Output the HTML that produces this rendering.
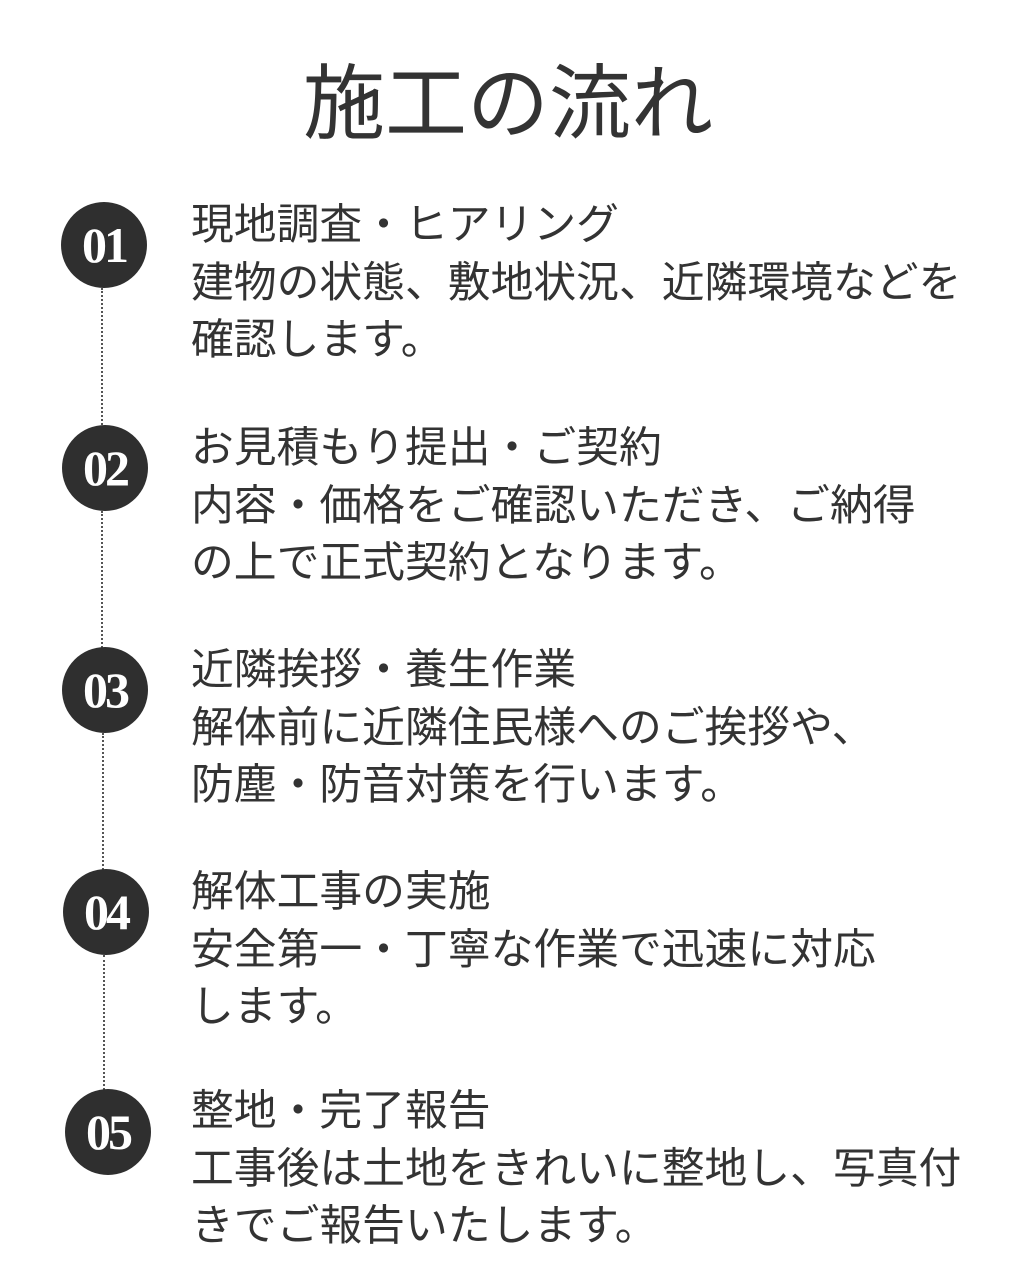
<!DOCTYPE html>
<html><head><meta charset="utf-8"><style>
html,body{margin:0;padding:0;background:#fff}
body{width:1020px;height:1266px;position:relative;overflow:hidden;font-family:"Liberation Sans","Noto Sans CJK JP",sans-serif;color:#333}
.title{position:absolute;left:0;width:1016px;top:52px;text-align:center;font-size:82px;line-height:106px;font-weight:400;color:#333}
.c{position:absolute;width:86px;height:86px;border-radius:50%;background:#2f2f2f;color:#fff;font-family:"Liberation Serif",serif;font-weight:bold;font-size:50px;line-height:86px;text-align:center;letter-spacing:-3px}
.line{position:absolute;width:0;border-left:2px dotted #555}
.t{position:absolute;left:191px;font-size:42.8px;line-height:57.5px;white-space:nowrap;color:#333}
</style></head><body>
<div class="title">施工の流れ</div>
<div class="line" style="left:101px;top:288px;height:137px"></div>
<div class="line" style="left:101px;top:511px;height:137px"></div>
<div class="line" style="left:102px;top:733px;height:137px"></div>
<div class="line" style="left:103px;top:955px;height:135px"></div>
<div class="c" style="left:61px;top:202px">01</div>
<div class="c" style="left:62px;top:425px">02</div>
<div class="c" style="left:62px;top:647px">03</div>
<div class="c" style="left:63px;top:869px">04</div>
<div class="c" style="left:65px;top:1089px">05</div>
<div class="t" style="top:197px">現地調査・ヒアリング<br>建物の状態、敷地状況、近隣環境などを<br>確認します。</div>
<div class="t" style="top:420px">お見積もり提出・ご契約<br>内容・価格をご確認いただき、ご納得<br>の上で正式契約となります。</div>
<div class="t" style="top:642px">近隣挨拶・養生作業<br>解体前に近隣住民様へのご挨拶や、<br>防塵・防音対策を行います。</div>
<div class="t" style="top:864px">解体工事の実施<br>安全第一・丁寧な作業で迅速に対応<br>します。</div>
<div class="t" style="top:1083px">整地・完了報告<br>工事後は土地をきれいに整地し、写真付<br>きでご報告いたします。</div>
</body></html>
